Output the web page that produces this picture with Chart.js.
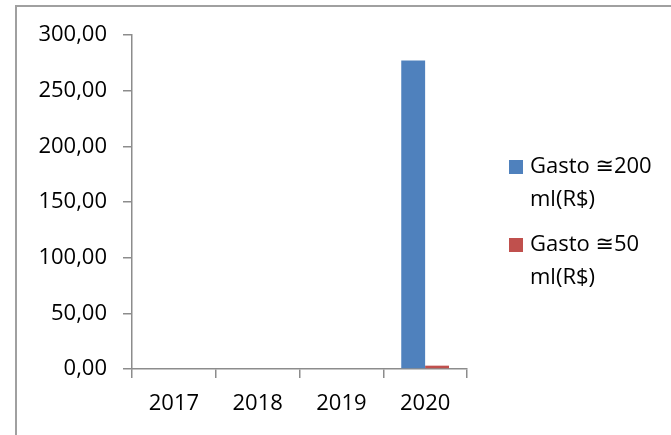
<!DOCTYPE html>
<html>
<head>
<meta charset="utf-8">
<script src="https://cdn.jsdelivr.net/npm/chart.js@4/dist/chart.umd.min.js"></script>
<style>
  html, body { margin: 0; padding: 0; background: #fff; }
  #wrap { width: 671px; height: 435px; }
</style>
</head>
<body>
<div id="wrap"><canvas id="grafico"></canvas></div>
<script>
// dados
const anos = ['2017', '2018', '2019', '2020'];
const gasto200 = [0, 0, 0, 277];
const gasto50 = [0, 0, 0, 3];
const nomes = [['Gasto \u2245200', 'ml(R$)'], ['Gasto \u224550', 'ml(R$)']];
const yTicks = [0, 50, 100, 150, 200, 250, 300];

const cinza = '#8c8c8c';
const fonte = { family: '"Open Sans", "DejaVu Sans", sans-serif', size: 22 };

// moldura externa (so aparecem a borda esquerda e a de cima)
const moldura = {
  id: 'moldura',
  beforeDraw(chart) {
    const c = chart.ctx;
    c.save();
    c.strokeStyle = '#a0a0a0';
    c.lineWidth = 2;
    c.beginPath();
    c.moveTo(16, chart.height);
    c.lineTo(16, 6);
    c.lineTo(chart.width, 6);
    c.stroke();
    c.restore();
  }
};

// legenda com texto quebrado em duas linhas
const legenda = {
  id: 'legenda',
  afterDraw(chart) {
    const c = chart.ctx;
    const x0 = chart.chartArea.right + 42;
    let y = 167;
    c.save();
    c.font = fonte.size + 'px ' + fonte.family;
    c.textBaseline = 'middle';
    chart.data.datasets.forEach((ds, i) => {
      c.fillStyle = ds.backgroundColor;
      c.fillRect(x0, y - 7, 14, 14);
      c.fillStyle = '#000';
      nomes[i].forEach((linha, j) => {
        c.fillText(linha, x0 + 21, y + j * 33);
      });
      y += 78;
    });
    c.restore();
  }
};

new Chart(document.getElementById('grafico'), {
  type: 'bar',
  data: {
    labels: anos,
    datasets: [
      { label: nomes[0].join(' '), data: gasto200, backgroundColor: '#4F81BD', borderWidth: 0 },
      { label: nomes[1].join(' '), data: gasto50, backgroundColor: '#C0504D', borderWidth: 0 }
    ]
  },
  options: {
    responsive: true,
    maintainAspectRatio: false,
    animation: false,
    layout: { padding: { top: 35, right: 204, bottom: 0, left: 0 } },
    datasets: { bar: { barPercentage: 1, categoryPercentage: 0.57 } },
    plugins: { legend: { display: false }, tooltip: { enabled: false } },
    scales: {
      x: {
        grid: { drawOnChartArea: false, drawTicks: true, tickLength: 9, color: cinza, lineWidth: 1.5 },
        border: { color: cinza, width: 1.5 },
        ticks: { color: '#000', font: fonte, padding: 13 },
        afterFit(scale) { scale.height = 66; }
      },
      y: {
        min: 0,
        max: 300,
        afterBuildTicks(scale) { scale.ticks = yTicks.map(v => ({ value: v })); },
        grid: { drawOnChartArea: false, drawTicks: true, tickLength: 9, color: cinza, lineWidth: 1.5 },
        border: { color: cinza, width: 1.5 },
        ticks: {
          color: '#000',
          font: fonte,
          padding: 16,
          callback: v => v.toFixed(2).replace('.', ',')
        },
        afterFit(scale) { scale.width = 132; }
      }
    }
  },
  plugins: [moldura, legenda]
});
</script>
</body>
</html>
